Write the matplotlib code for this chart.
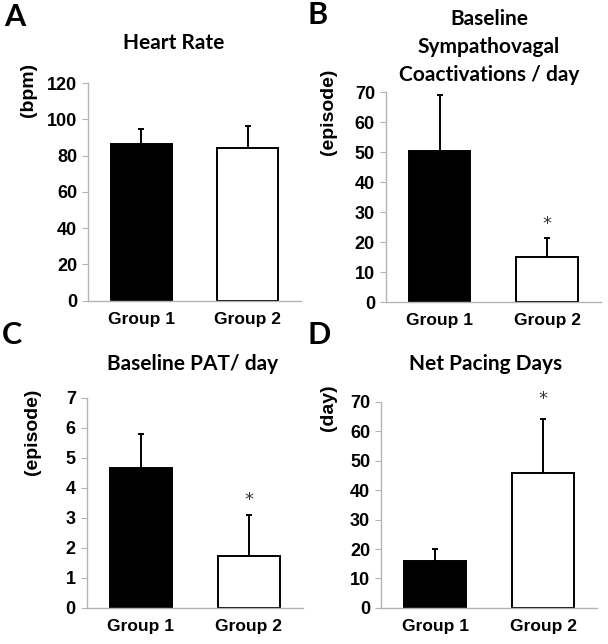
import matplotlib
matplotlib.use("Agg")
import matplotlib.pyplot as plt
from matplotlib.font_manager import FontProperties

groups = ["Group 1", "Group 2"]

hr_mean = [86.5, 84.3]
hr_err = [8.3, 12.1]

coact_mean = [50.3, 15.0]
coact_err = [18.7, 6.4]

pat_mean = [4.66, 1.72]
pat_err = [1.15, 1.37]

pacing_mean = [16.0, 46.0]
pacing_err = [4.1, 18.1]

spine_col = "#b4b4b4"
tick_font = dict(family="Liberation Sans", weight="bold", size=13)
title_font = dict(family="Lato", weight="bold", size=15)

fig = plt.figure(figsize=(6.08, 6.44), dpi=100)


def panel(rect, means, errs, ymax, ystep, star_y=None, star_idx=1):
    ax = fig.add_axes(rect)
    x = [0, 1]
    ax.bar(x, means, width=0.57, color=["black", "white"], edgecolor="black",
           linewidth=1.4, zorder=2)
    ax.errorbar(x, means, yerr=[[0, 0], errs], fmt="none", ecolor="black",
                elinewidth=1.4, capsize=2.5, capthick=1.4, zorder=3)
    ax.set_xlim(-0.5, 1.5)
    ax.set_ylim(0, ymax)
    ax.set_yticks(range(0, ymax + 1, ystep))
    ax.set_xticks(x)
    ax.set_xticklabels(groups, fontdict=dict(family="Liberation Sans", weight="bold", size=12.5))
    for lab in ax.get_yticklabels():
        lab.set_fontproperties(FontProperties(**tick_font))
    for s in ["top", "right"]:
        ax.spines[s].set_visible(False)
    for s in ["left", "bottom"]:
        ax.spines[s].set_color(spine_col)
        ax.spines[s].set_linewidth(1.0)
    ax.tick_params(axis="y", length=4, color=spine_col, pad=4)
    ax.tick_params(axis="x", length=0, pad=8)
    if star_y is not None:
        ax.text(star_idx, star_y, "*", ha="center", va="center", fontsize=13,
                color="#333333", clip_on=False)
    return ax


panel([0.145, 0.533, 0.35, 0.338], hr_mean, hr_err, 120, 20)
panel([0.635, 0.531, 0.353, 0.326], coact_mean, coact_err, 70, 10, star_y=26)
panel([0.143, 0.056, 0.355, 0.326], pat_mean, pat_err, 7, 1, star_y=3.6)
panel([0.627, 0.056, 0.355, 0.320], pacing_mean, pacing_err, 70, 10, star_y=71)

W, H = 608, 644


def ftext(px, py, s, **kw):
    fig.text(px / W, 1 - py / H, s, **kw)


letter_font = dict(family="Lato", weight="bold", size=22)
ftext(4, 17, "A", ha="left", va="center", **letter_font)
ftext(307, 15, "B", ha="left", va="center", **letter_font)
ftext(2, 335, "C", ha="left", va="center", **letter_font)
ftext(308, 335, "D", ha="left", va="center", **letter_font)

ftext(174, 43, "Heart Rate", ha="center", va="center", **title_font)
ftext(489, 47, "Baseline\nSympathovagal\nCoactivations / day", ha="center",
      va="center", linespacing=1.48, **title_font)
ftext(193, 364, "Baseline PAT/ day", ha="center", va="center", **title_font)
ftext(486, 364, "Net Pacing Days", ha="center", va="center", **title_font)

ylab_font = dict(family="Liberation Sans", weight="bold", size=14)
ftext(28, 90, "(bpm)", ha="center", va="center", rotation=90, **ylab_font)
ftext(329, 112, "(episode)", ha="center", va="center", rotation=90, **ylab_font)
ftext(33, 432, "(episode)", ha="center", va="center", rotation=90, **ylab_font)
ftext(329, 408, "(day)", ha="center", va="center", rotation=90, **ylab_font)

fig.savefig("out.png", dpi=100, facecolor="white")
